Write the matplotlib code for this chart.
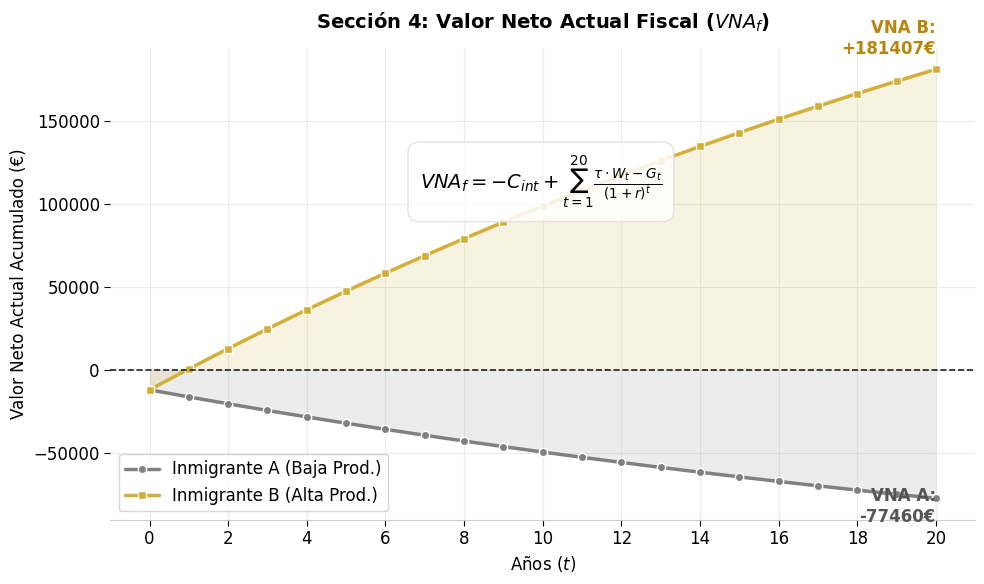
import numpy as np
import matplotlib
matplotlib.use("Agg")
from matplotlib import pyplot as plt
import seaborn as sns

# data
years = list(range(21))
vna_a = [-12000, -16272, -20419, -24446, -28355, -32151, -35836, -39413, -42887, -46259, -49533,
         -52711, -55798, -58794, -61703, -64527, -67269, -69931, -72515, -75025, -77460]
vna_b = [-12000, 622, 12876, 24772, 36322, 47536, 58424, 68994, 79256, 89219, 98893,
         108284, 117402, 126255, 134850, 143193, 151294, 159159, 166796, 174209, 181407]
label_a = "Inmigrante A (Baja Prod.)"
label_b = "Inmigrante B (Alta Prod.)"

col_a = "#808080"
col_b = "#D4AF37"

sns.set_style("whitegrid", {"grid.color": "#ebebeb"})
plt.rcParams.update({"text.color": "black", "axes.labelcolor": "black",
                     "xtick.color": "black", "ytick.color": "black"})
fig, ax = plt.subplots(figsize=(9.84, 5.84), dpi=100)

ax.plot(years, vna_a, color=col_a, lw=2.5, marker="o", ms=6, mec="white", mew=1, label=label_a)
ax.plot(years, vna_b, color=col_b, lw=2.5, marker="s", ms=6, mec="white", mew=1, label=label_b)
ax.fill_between(years, vna_a, 0, color=col_a, alpha=0.15, lw=0)
ax.fill_between(years, vna_b, 0, color=col_b, alpha=0.15, lw=0)
ax.axhline(0, color="#222222", ls="--", lw=1.2)

# final values
ax.annotate(f"VNA B:\n+{vna_b[-1]}€", xy=(years[-1], vna_b[-1]), xytext=(0, 8),
            textcoords="offset points", ha="right", va="bottom",
            fontsize=12, fontweight="bold", color="#B8860B")
ax.annotate(f"VNA A:\n{vna_a[-1]}€", xy=(years[-1], vna_a[-1]), xytext=(0, -6),
            textcoords="offset points", ha="right", va="center",
            fontsize=12, fontweight="bold", color="#555555")

ax.text(0.498, 0.716, r"$VNA_f = -C_{int} + \sum_{t=1}^{20} \frac{\tau \cdot W_t - G_t}{(1+r)^t}$",
        transform=ax.transAxes, ha="center", va="center", fontsize=14,
        bbox=dict(boxstyle="round,pad=0.6", facecolor="white", edgecolor="#dddddd", alpha=0.85))

ax.set_title(r"Sección 4: Valor Neto Actual Fiscal ($VNA_f$)", fontsize=14, fontweight="bold", pad=14)
ax.set_xlabel(r"Años ($t$)", fontsize=12)
ax.set_ylabel("Valor Neto Actual Acumulado (€)", fontsize=12)
ax.set_xticks(range(0, 21, 2))
ax.tick_params(axis="both", labelsize=12, length=4, color="black", bottom=True, left=True)
ax.legend(loc="lower left", fontsize=12, frameon=True)

sns.despine(left=True)
ax.spines["bottom"].set_color("#cccccc")

plt.subplots_adjust(left=0.112, right=0.991, top=0.918, bottom=0.110)
plt.savefig("out.png")
